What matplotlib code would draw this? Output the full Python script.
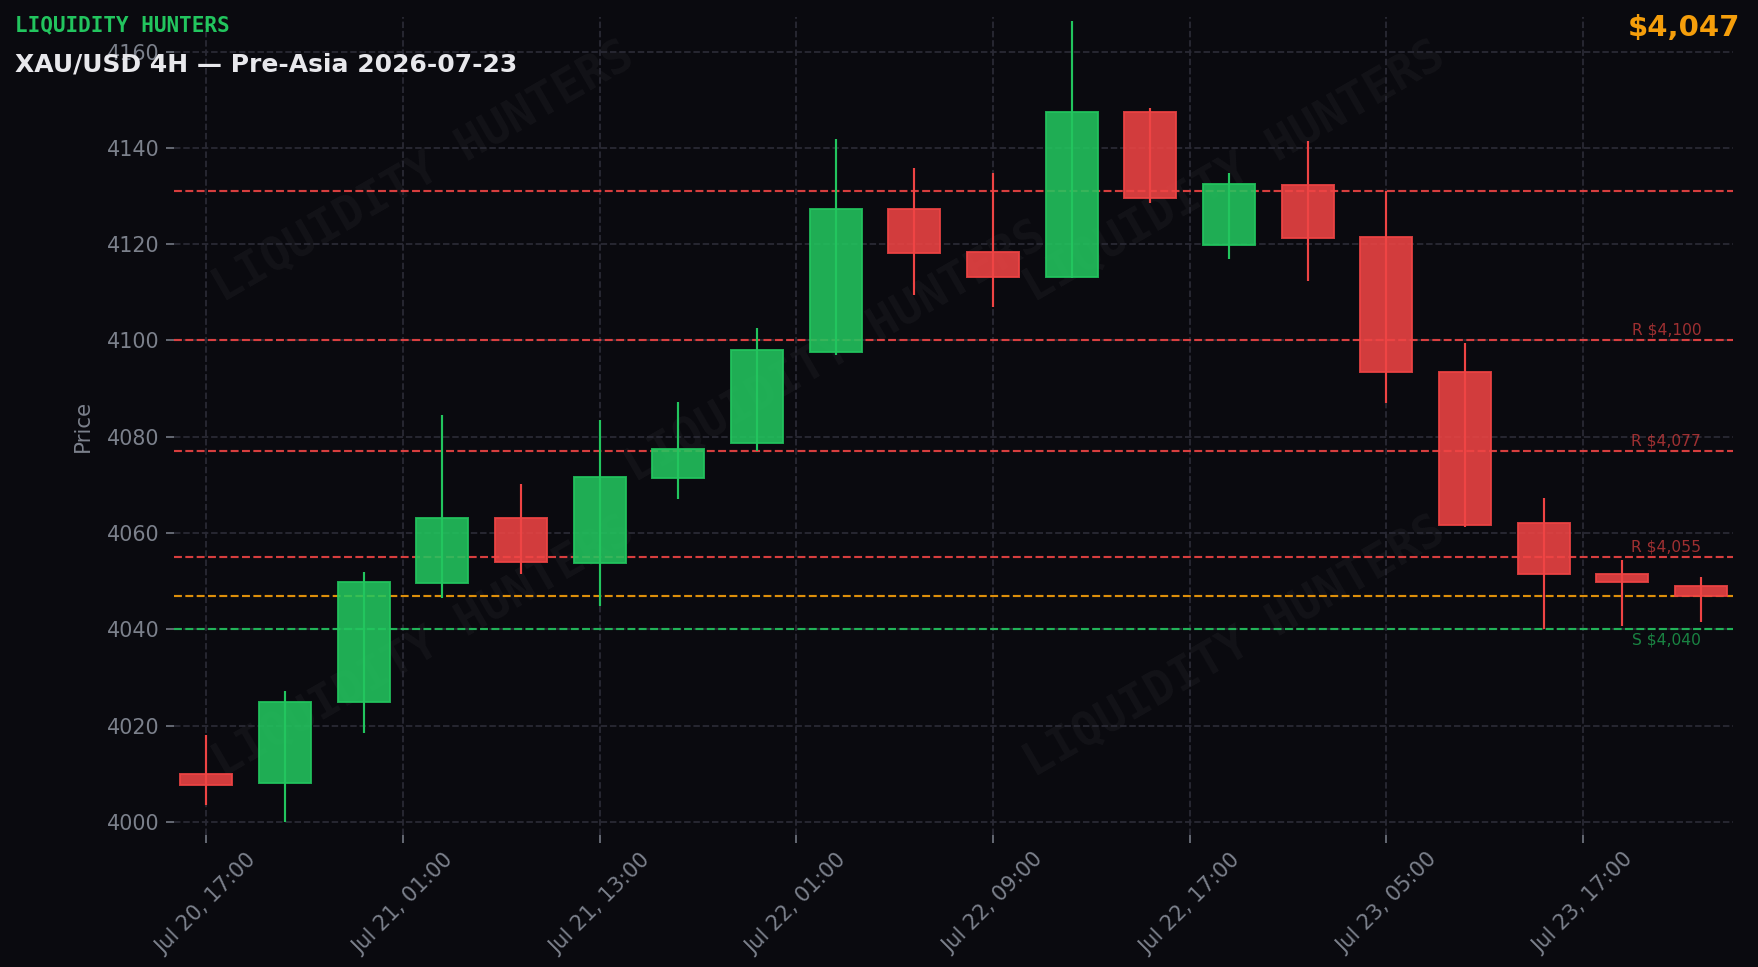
import matplotlib
matplotlib.use("Agg")
import matplotlib.pyplot as plt
import numpy as np

# 4H candles, XAU/USD
opens  = [4010.0, 4008.0, 4025.0, 4049.7, 4063.2, 4053.8, 4071.5, 4078.8, 4097.6, 4127.4,
          4118.4, 4113.2, 4147.4, 4119.8, 4132.2, 4121.5, 4093.5, 4062.0, 4051.6, 4049.0]
highs  = [4018.1, 4027.2, 4052.0, 4084.5, 4070.3, 4083.5, 4087.2, 4102.6, 4141.8, 4135.8,
          4134.7, 4166.4, 4148.3, 4134.7, 4141.4, 4131.0, 4099.5, 4067.2, 4054.5, 4050.9]
lows   = [4003.5, 4000.0, 4018.5, 4046.5, 4051.5, 4044.8, 4067.1, 4077.1, 4096.9, 4109.4,
          4106.9, 4112.9, 4128.5, 4117.0, 4112.3, 4087.1, 4061.2, 4040.1, 4040.8, 4041.5]
closes = [4007.6, 4024.9, 4049.9, 4063.2, 4054.0, 4071.7, 4077.4, 4098.0, 4127.4, 4118.2,
          4113.2, 4147.4, 4129.6, 4132.4, 4121.3, 4093.4, 4061.7, 4051.5, 4049.8, 4047.0]

tick_pos = [0, 2.5, 5, 7.5, 10, 12.5, 15, 17.5]
tick_labels = ["Jul 20, 17:00", "Jul 21, 01:00", "Jul 21, 13:00", "Jul 22, 01:00",
               "Jul 22, 09:00", "Jul 22, 17:00", "Jul 23, 05:00", "Jul 23, 17:00"]

resistance = [4131, 4100, 4077, 4055]
resistance_labeled = [False, True, True, True]
support = [4040]
current = 4047

BG = "#0a0a0f"
GREEN = "#22c55e"
RED = "#ef4444"
ORANGE = "#f59e0b"
GRAY = "#7c818c"
GRID = "#2a2a35"

fig = plt.figure(figsize=(1758 / 140, 967 / 140), dpi=140, facecolor=BG)
ax = fig.add_axes([0.099, 0.1365, 0.887, 0.8455])
ax.set_facecolor(BG)

o = np.array(opens)
c = np.array(closes)
h = np.array(highs)
l = np.array(lows)
x = np.arange(len(o))
up = c >= o
cols = np.where(up, GREEN, RED)

ax.vlines(x, l, h, colors=cols, linewidth=1.1, zorder=3)
ax.bar(x, np.abs(c - o), bottom=np.minimum(o, c), width=0.66, color=cols,
       alpha=0.88, edgecolor=cols, linewidth=1.0, zorder=4)

# levels
for lv, lab in zip(resistance, resistance_labeled):
    ax.axhline(lv, color=RED, linestyle="--", linewidth=1.1, alpha=0.9, zorder=2)
    if lab:
        ax.text(x[-1], lv + 0.6, f"R ${lv:,}", color=RED, alpha=0.65, fontsize=8,
                ha="right", va="bottom", zorder=5)
for lv in support:
    ax.axhline(lv, color=GREEN, linestyle="--", linewidth=1.1, alpha=0.9, zorder=2)
    ax.text(x[-1], lv - 0.6, f"S ${lv:,}", color=GREEN, alpha=0.65, fontsize=8,
            ha="right", va="top", zorder=5)
ax.axhline(current, color=ORANGE, linestyle="--", linewidth=1.1, alpha=0.9, zorder=2)

# watermark
for wx, wy in [(0.16, 0.81), (0.68, 0.81), (0.424, 0.59), (0.16, 0.23), (0.68, 0.23)]:
    ax.text(wx, wy, "LIQUIDITY HUNTERS", transform=ax.transAxes, rotation=30,
            fontsize=24, fontfamily="DejaVu Sans Mono", fontweight="bold",
            color="white", alpha=0.04, ha="center", va="center", zorder=1)

ax.set_xlim(-0.41, 19.41)
ax.set_ylim(3997.3, 4167.1)
ax.set_xticks(tick_pos)
ax.set_xticklabels(tick_labels, rotation=45, ha="center")
ax.set_yticks([4000, 4020, 4040, 4060, 4080, 4100, 4120, 4140, 4160])
ax.tick_params(colors=GRAY, labelsize=10.6, length=4)
ax.tick_params(axis="x", labelsize=10.8)
ax.set_ylabel("Price", color=GRAY, fontsize=11, labelpad=7)
ax.grid(True, color=GRID, linestyle="--", linewidth=0.9, zorder=0)
for s in ax.spines.values():
    s.set_visible(False)

fig.text(0.0085, 0.974, "LIQUIDITY HUNTERS", color=GREEN, fontsize=10.8,
         fontfamily="DejaVu Sans Mono", fontweight="bold", ha="left", va="center")
fig.text(0.0085, 0.933, "XAU/USD 4H \u2014 Pre-Asia 2026-07-23", color="#e8e8ec",
         fontsize=12.85, fontweight="bold", ha="left", va="center")
fig.text(0.990, 0.971, f"${current:,}", color=ORANGE, fontsize=15,
         fontweight="bold", ha="right", va="center")

fig.savefig("out.png", dpi=140, facecolor=BG)
